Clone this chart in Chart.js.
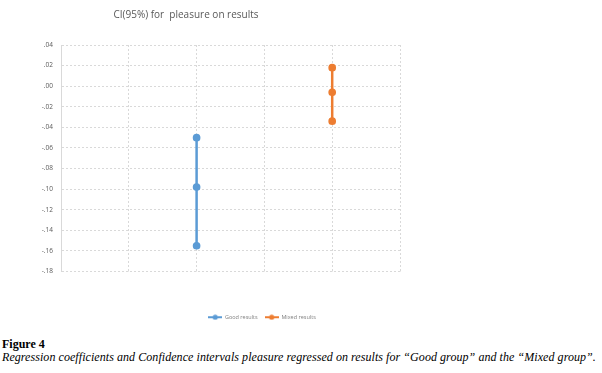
<!DOCTYPE html>
<html>
<head>
<meta charset="utf-8">
<script src="https://cdn.jsdelivr.net/npm/chart.js@4"></script>
<style>
  body { margin: 0; background: #fff; width: 602px; height: 373px; position: relative; overflow: hidden; }
  #wrap { position: absolute; left: 0; top: 0; width: 524px; height: 330px; }
  #title { position: absolute; left: 0; width: 372px; top: 7px; text-align: center;
    font: 10px "Open Sans", sans-serif; color: #595959; white-space: pre; }
  #fig { position: absolute; left: 2px; top: 337px; font: bold 12px "Liberation Serif", serif; color: #000; }
  #cap { position: absolute; left: 2px; top: 350px; font: italic 12px "Liberation Serif", serif; color: #000;
    white-space: nowrap; letter-spacing: 0.06px; }
</style>
</head>
<body>
<div id="wrap"><canvas id="ciChart"></canvas></div>
<div id="title">CI(95%) for  pleasure on results</div>
<div id="fig">Figure 4</div>
<div id="cap">Regression coefficients and Confidence intervals pleasure regressed on results for “Good group” and the “Mixed group”.</div>
<script>
// DATA
const seriesNames = ["Good results", "Mixed results"];
const groupX = [2, 4];
const goodCI = [-0.050, -0.098, -0.155];
const mixedCI = [0.018, -0.006, -0.034];
const seriesColors = ["#5B9BD5", "#ED7D31"];
const yMin = -0.18, yMax = 0.04, yStep = 0.02;
const xMin = 0, xMax = 5;

// legend marker: line with a dot, like the office style
function legendMarker(color) {
  const c = document.createElement('canvas');
  c.width = 14; c.height = 6;
  const g = c.getContext('2d');
  g.strokeStyle = color; g.lineWidth = 2;
  g.beginPath(); g.moveTo(0, 3); g.lineTo(14, 3); g.stroke();
  g.fillStyle = color;
  g.beginPath(); g.arc(7, 3, 2.6, 0, Math.PI * 2); g.fill();
  return c;
}
const markers = seriesColors.map(legendMarker);

const allCI = [goodCI, mixedCI];
const datasets = seriesNames.map((name, i) => ({
  label: name,
  data: allCI[i].map(v => ({ x: groupX[i], y: v })),
  borderColor: seriesColors[i],
  backgroundColor: seriesColors[i],
  borderWidth: 2.5,
  pointRadius: 2.6,
  pointHoverRadius: 2.6,
  pointStyle: 'circle',
  showLine: true
}));

const gridStyle = {
  color: '#d9d9d9',
  lineWidth: 1,
  tickLength: 0
};

new Chart("ciChart", {
  type: "scatter",
  data: { datasets: datasets },
  options: {
    responsive: true,
    maintainAspectRatio: false,
    animation: false,
    layout: { padding: { top: 45, right: 0, left: 0, bottom: 0 } },
    plugins: {
      legend: {
        position: 'bottom',
        labels: {
          usePointStyle: true,
          pointStyleWidth: 14,
          boxHeight: 6,
          padding: 7,
          color: '#808080',
          font: { family: "Open Sans", size: 5.5 },
          generateLabels: chart => {
            const items = Chart.defaults.plugins.legend.labels.generateLabels(chart);
            items.forEach(it => { it.pointStyle = markers[it.datasetIndex]; });
            return items;
          }
        }
      },
      tooltip: { enabled: false }
    },
    scales: {
      x: {
        type: 'linear',
        min: xMin,
        max: xMax,
        ticks: { display: false, stepSize: 1 },
        grid: gridStyle,
        border: { display: false, dash: [2, 2] },
        afterFit: s => { s.height = 36; }
      },
      y: {
        min: yMin,
        max: yMax,
        ticks: {
          stepSize: yStep,
          color: '#595959',
          padding: 8,
          font: { family: "Open Sans", size: 6.5 },
          callback: v => v.toFixed(2).replace(/^(-?)0\./, '$1.')
        },
        grid: gridStyle,
        border: { display: true, color: '#d9d9d9', dash: [2, 2] },
        afterFit: s => { s.width = 61; }
      },
      // empty right side of the chart box, keeps the legend centred on the whole box
      yRight: {
        position: 'right',
        min: yMin,
        max: yMax,
        ticks: { display: false },
        grid: { display: false },
        border: { display: false },
        afterFit: s => { s.width = 124; }
      }
    }
  }
});
</script>
</body>
</html>
